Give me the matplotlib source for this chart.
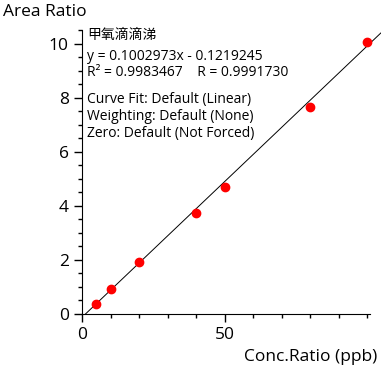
import matplotlib
matplotlib.use("Agg")
import matplotlib.pyplot as plt
import numpy as np
from matplotlib.ticker import MultipleLocator, FixedLocator

plt.rcParams['font.family'] = ['Open Sans', 'Noto Sans CJK SC']

conc = [5, 10, 20, 40, 50, 80, 100]
area = [0.37, 0.92, 1.93, 3.75, 4.71, 7.64, 10.04]
slope = 0.1002973
intercept = -0.1219245
compound = "甲氧滴滴涕"
r2 = "0.9983467"
r = "0.9991730"

fig = plt.figure(figsize=(3.81, 3.70), dpi=100)
ax = fig.add_axes([82 / 381, 56 / 370, 288 / 381, 284 / 370])

x0 = -intercept / slope
xl = np.array([x0, 104.8])
ax.plot(xl, slope * xl + intercept, color='black', lw=0.7, clip_on=False)
ax.plot(conc, area, 'o', color='#ff0000', ms=6, clip_on=False)

ax.set_xlim(0, 101)
ax.set_ylim(0, 10.5)
ax.xaxis.set_major_locator(FixedLocator([0, 50]))
ax.xaxis.set_minor_locator(MultipleLocator(10))
ax.yaxis.set_major_locator(MultipleLocator(2))
ax.yaxis.set_minor_locator(MultipleLocator(0.5))
ax.tick_params(which='major', length=6, labelsize=12.5, width=1)
ax.tick_params(which='minor', length=3, width=1)
ax.spines['top'].set_visible(False)
ax.spines['right'].set_visible(False)

fig.text(3 / 381, 1 - 12 / 370, "Area Ratio", fontsize=12.5, va='center', ha='left')
fig.text(377 / 381, 1 - 357 / 370, "Conc.Ratio (ppb)", fontsize=12.5, va='center', ha='right')

lines = [
    (36, compound),
    (56, "y = %.7fx - %.7f" % (slope, -intercept)),
    (73, "R² = %s    R = %s" % (r2, r)),
    (99, "Curve Fit: Default (Linear)"),
    (116, "Weighting: Default (None)"),
    (133, "Zero: Default (Not Forced)"),
]
for y, t in lines:
    fig.text(87 / 381, 1 - y / 370, t, fontsize=10, va='center', ha='left')

fig.savefig("out.png", dpi=100)
